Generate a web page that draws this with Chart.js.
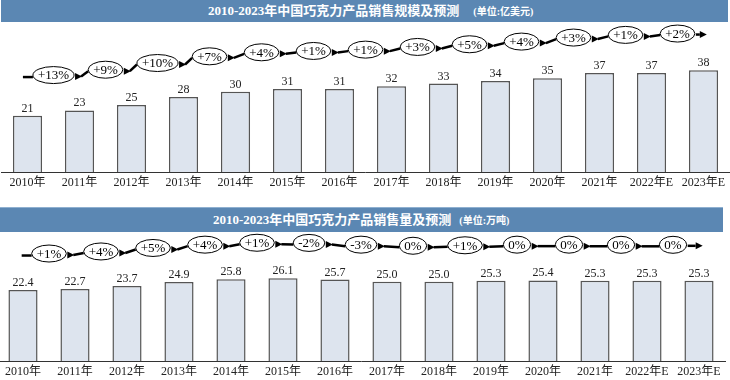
<!DOCTYPE html>
<html><head><meta charset="utf-8">
<script src="https://cdn.jsdelivr.net/npm/chart.js@4"></script>
<style>
html,body{margin:0;padding:0;background:#fff;width:730px;height:380px;overflow:hidden;position:relative}
.bar{position:absolute;background:#5b87b3;color:#fff;font-weight:bold;white-space:nowrap}
.bar .t{position:absolute;top:0;font-family:"Liberation Serif","Noto Sans CJK SC",serif;font-size:13px}
.bar .u{font-size:10px}
canvas{position:absolute}
</style></head><body>
<div class="bar" style="left:1px;top:0;width:727px;height:22px;"><span class="t" style="left:207px;line-height:22px">2010-2023年中国巧克力产品销售规模及预测<span class="u" style="margin-left:14px">(单位:亿美元)</span></span></div>
<div class="bar" style="left:0;top:207px;width:723px;height:25px;border-top:1px solid #8fb0d0;box-sizing:border-box"><span class="t" style="left:213px;line-height:24px">2010-2023年中国巧克力产品销售量及预测<span class="u" style="margin-left:8px">(单位:万吨)</span></span></div>
<canvas id="c1" width="730" height="170" style="left:0;top:22px;width:730px;height:170px"></canvas>
<canvas id="c2" width="730" height="149" style="left:-3px;top:232px;width:730px;height:149px"></canvas>
<script>
const years = ["2010年","2011年","2012年","2013年","2014年","2015年","2016年","2017年","2018年","2019年","2020年","2021年","2022年E","2023年E"];
const salesValue = [21,23,25,28,30,31,31,32,33,34,35,37,37,38];
const salesValueGrowth = ["+13%","+9%","+10%","+7%","+4%","+1%","+1%","+3%","+5%","+4%","+3%","+1%","+2%"];
const salesVolume = [22.4,22.7,23.7,24.9,25.8,26.1,25.7,25.0,25.0,25.3,25.4,25.3,25.3,25.3];
const salesVolumeGrowth = ["+1%","+4%","+5%","+4%","+1%","-2%","-3%","0%","+1%","0%","0%","0%","0%"];

const FONT = '"Liberation Serif","Noto Sans CJK SC",serif';

const growthPlugin = {
  id: 'growth',
  afterDatasetsDraw(chart, args, opts) {
    const ctx = chart.ctx, xs = chart.scales.x, ys = chart.scales.y;
    const vals = chart.data.datasets[0].data;
    const meta = chart.getDatasetMeta(0);
    ctx.save();
    ctx.font = '12px ' + FONT;
    ctx.fillStyle = '#222';
    ctx.textAlign = 'center';
    ctx.textBaseline = 'alphabetic';
    meta.data.forEach((b, i) => {
      ctx.fillText(vals[i].toFixed(opts.decimals), b.x, b.y - 4);
    });
    const g = opts.labels;
    const pts = [];
    ctx.font = '13px ' + FONT;
    for (let i = 0; i < g.length; i++) {
      const cx = (xs.getPixelForValue(i) + xs.getPixelForValue(i + 1)) / 2;
      const cy = ys.getPixelForValue((vals[i] + vals[i + 1]) / 2) - opts.lift;
      const rx = ctx.measureText(g[i]).width / 2 + 5;
      pts.push({cx, cy, rx});
    }
    ctx.strokeStyle = '#000';
    ctx.fillStyle = '#000';
    ctx.lineWidth = 2.5;
    const line = (x1, y1, x2, y2) => { ctx.beginPath(); ctx.moveTo(x1, y1); ctx.lineTo(x2, y2); ctx.stroke(); };
    const head = (x, y) => { ctx.beginPath(); ctx.moveTo(x, y - 3.5); ctx.lineTo(x + 7, y); ctx.lineTo(x, y + 3.5); ctx.closePath(); ctx.fill(); };
    const p0 = pts[0];
    line(p0.cx - p0.rx - 10, p0.cy + 2, p0.cx - p0.rx, p0.cy + 2);
    for (let i = 0; i < pts.length; i++) {
      const p = pts[i];
      const hx = p.cx + p.rx + 1;
      if (i < pts.length - 1) {
        const q = pts[i + 1];
        head(hx, p.cy + 1.5);
        line(hx + 6, p.cy + 1.5, q.cx - q.rx, q.cy + 1.5);
      } else {
        line(hx, p.cy + 1, hx + opts.tail, p.cy + 1);
        head(hx + opts.tail, p.cy + 1);
      }
    }
    ctx.lineWidth = 1;
    ctx.textBaseline = 'middle';
    pts.forEach((p, i) => {
      ctx.beginPath();
      ctx.ellipse(p.cx, p.cy, p.rx, 8.5, 0, 0, Math.PI * 2);
      ctx.fillStyle = '#fff';
      ctx.fill();
      ctx.stroke();
      ctx.fillStyle = '#000';
      ctx.fillText(g[i], p.cx, p.cy + 1);
    });
    ctx.restore();
  }
};

function makeChart(id, values, growth, yMax, pad, decimals, lift, tail) {
  return new Chart(document.getElementById(id), {
    type: 'bar',
    data: {
      labels: years,
      datasets: [{
        data: values,
        backgroundColor: '#dde4ee',
        borderColor: '#555',
        borderWidth: 1.5,
        barPercentage: 0.56,
        categoryPercentage: 1
      }]
    },
    options: {
      responsive: false,
      animation: false,
      layout: { padding: pad },
      plugins: {
        legend: { display: false },
        tooltip: { enabled: false },
        growth: { labels: growth, decimals: decimals, lift: lift, tail: tail }
      },
      scales: {
        x: {
          grid: { display: false, drawTicks: false },
          border: { display: true, color: '#333', width: 1 },
          ticks: { color: '#222', font: { family: FONT, size: 12 }, padding: 4, autoSkip: false, maxRotation: 0 },
          afterFit: s => { s.height = 20; }
        },
        y: { display: false, min: 0, max: yMax }
      }
    },
    plugins: [growthPlugin]
  });
}

makeChart('c1', salesValue, salesValueGrowth, 56, {left: 1.5, right: 0.5, top: 0, bottom: 0}, 0, 38, 4);
makeChart('c2', salesVolume, salesVolumeGrowth, 40.7, {left: 0, right: 2, top: 0, bottom: 0}, 1, 36, 8);
</script>
</body></html>
